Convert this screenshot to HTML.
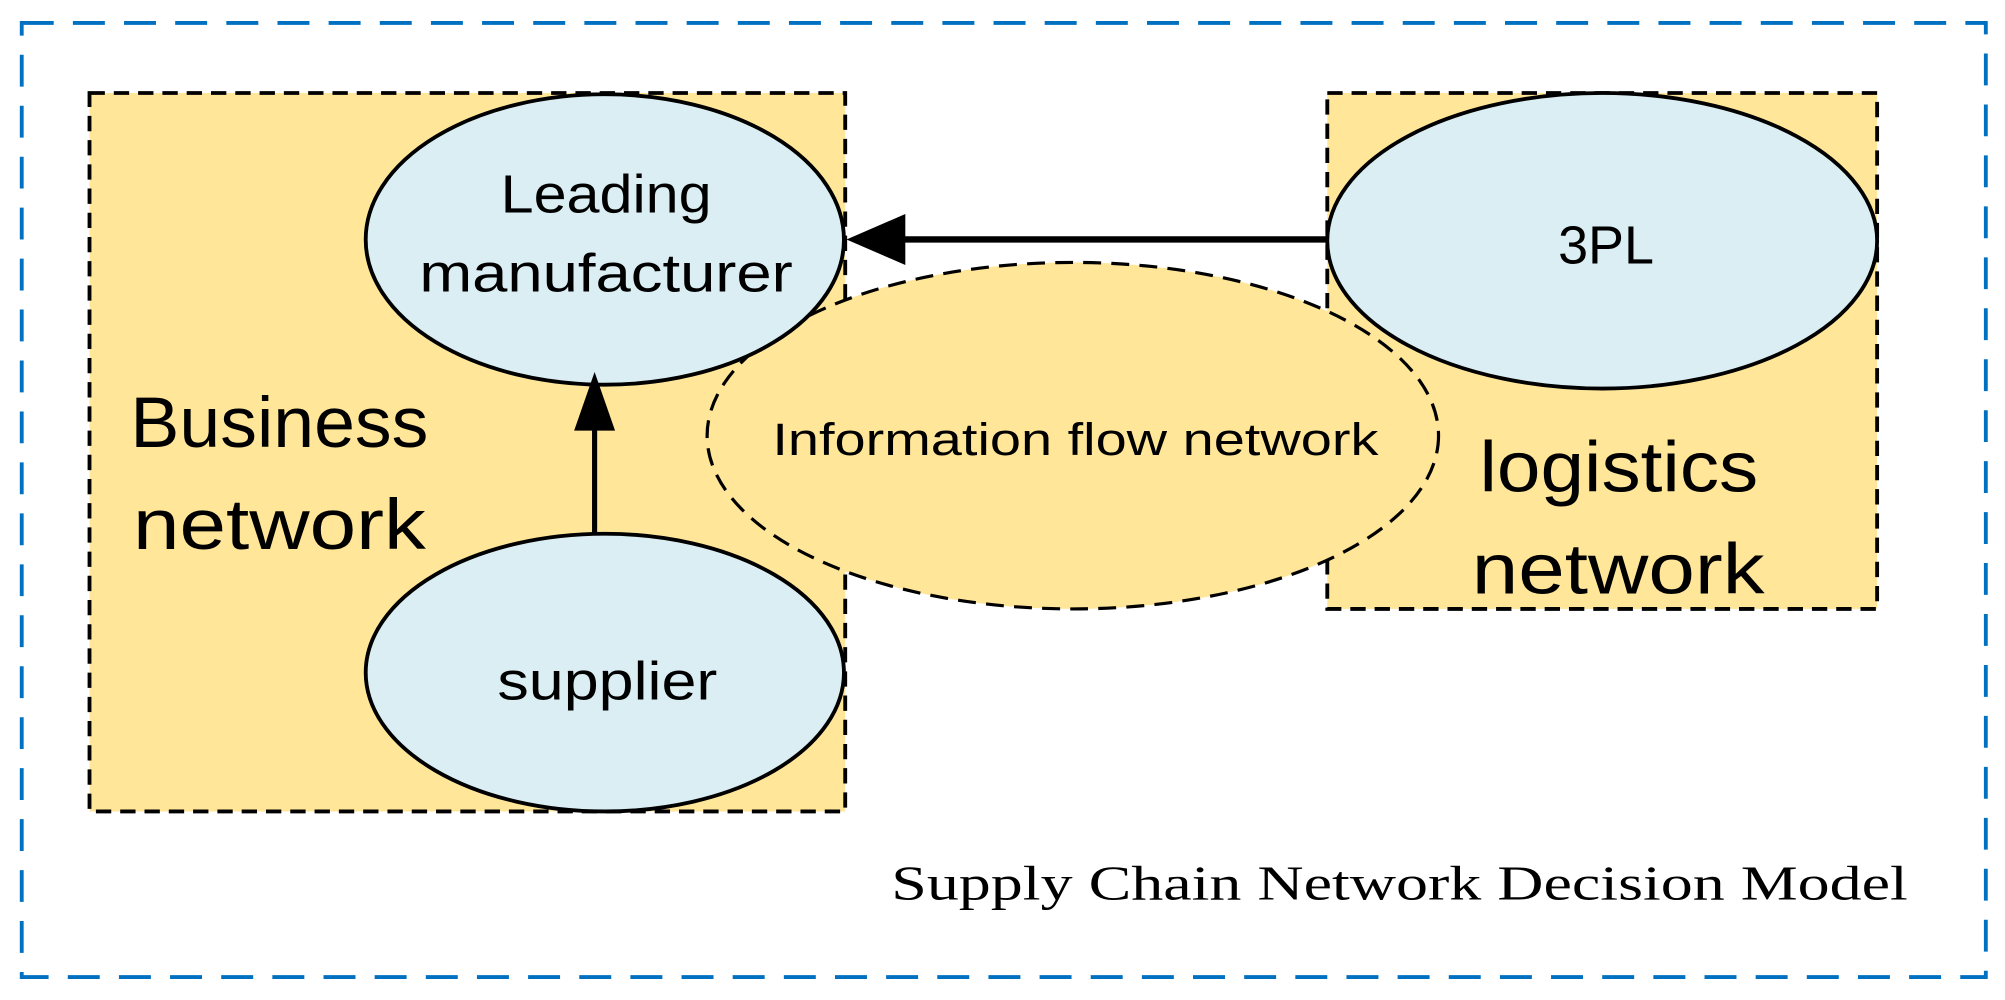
<!DOCTYPE html>
<html><head><style>html,body{margin:0;padding:0;background:#fff}svg{display:block}</style></head>
<body>
<svg width="2005" height="1000" viewBox="0 0 1568 785" preserveAspectRatio="none" xmlns="http://www.w3.org/2000/svg">
<rect x="17" y="18" width="1536" height="749" fill="none" stroke="#0070C0" stroke-width="3" stroke-dasharray="25,15"/>
<rect x="70" y="73" width="591" height="564" fill="#FFE699" stroke="#000" stroke-width="3" stroke-dasharray="12,7"/>
<rect x="1038" y="73" width="430" height="405" fill="#FFE699" stroke="#000" stroke-width="3" stroke-dasharray="12,7"/>
<ellipse cx="839" cy="342" rx="286" ry="136" fill="#FFE699" stroke="#000" stroke-width="2.5" stroke-dasharray="14,8"/>
<ellipse cx="473" cy="188" rx="187" ry="114" fill="#DAEEF3" stroke="#000" stroke-width="3"/>
<ellipse cx="473" cy="528" rx="187" ry="109" fill="#DAEEF3" stroke="#000" stroke-width="3"/>
<ellipse cx="1253" cy="189" rx="215" ry="116" fill="#DAEEF3" stroke="#000" stroke-width="3"/>
<line x1="1038" y1="188" x2="700" y2="188" stroke="#000" stroke-width="5"/>
<polygon points="662,188 708,168 708,208" fill="#000"/>
<line x1="465" y1="420" x2="465" y2="330" stroke="#000" stroke-width="4"/>
<polygon points="465,292 449,338 481,338" fill="#000"/>
<g font-family="Liberation Sans, sans-serif" fill="#000" text-anchor="middle">
<text x="474" y="167" font-size="42" textLength="165" lengthAdjust="spacingAndGlyphs">Leading</text>
<text x="474" y="229" font-size="42" textLength="292" lengthAdjust="spacingAndGlyphs">manufacturer</text>
<text x="1256" y="207" font-size="42" textLength="75" lengthAdjust="spacingAndGlyphs">3PL</text>
<text x="475" y="549" font-size="42" textLength="172" lengthAdjust="spacingAndGlyphs">supplier</text>
<text x="841" y="357" font-size="36" textLength="474" lengthAdjust="spacingAndGlyphs">Information flow network</text>
</g>
<g font-family="Liberation Sans, sans-serif" fill="#000" font-size="56">
<text x="102" y="351" textLength="233" lengthAdjust="spacingAndGlyphs">Business</text>
<text x="104" y="431" textLength="229" lengthAdjust="spacingAndGlyphs">network</text>
<text x="1157" y="386" textLength="218" lengthAdjust="spacingAndGlyphs">logistics</text>
<text x="1151" y="466" textLength="229" lengthAdjust="spacingAndGlyphs">network</text>
</g>
<text x="697" y="706" font-family="Liberation Serif, serif" font-size="38" textLength="795" lengthAdjust="spacingAndGlyphs" fill="#000">Supply Chain Network Decision Model</text>
</svg>
</body></html>
